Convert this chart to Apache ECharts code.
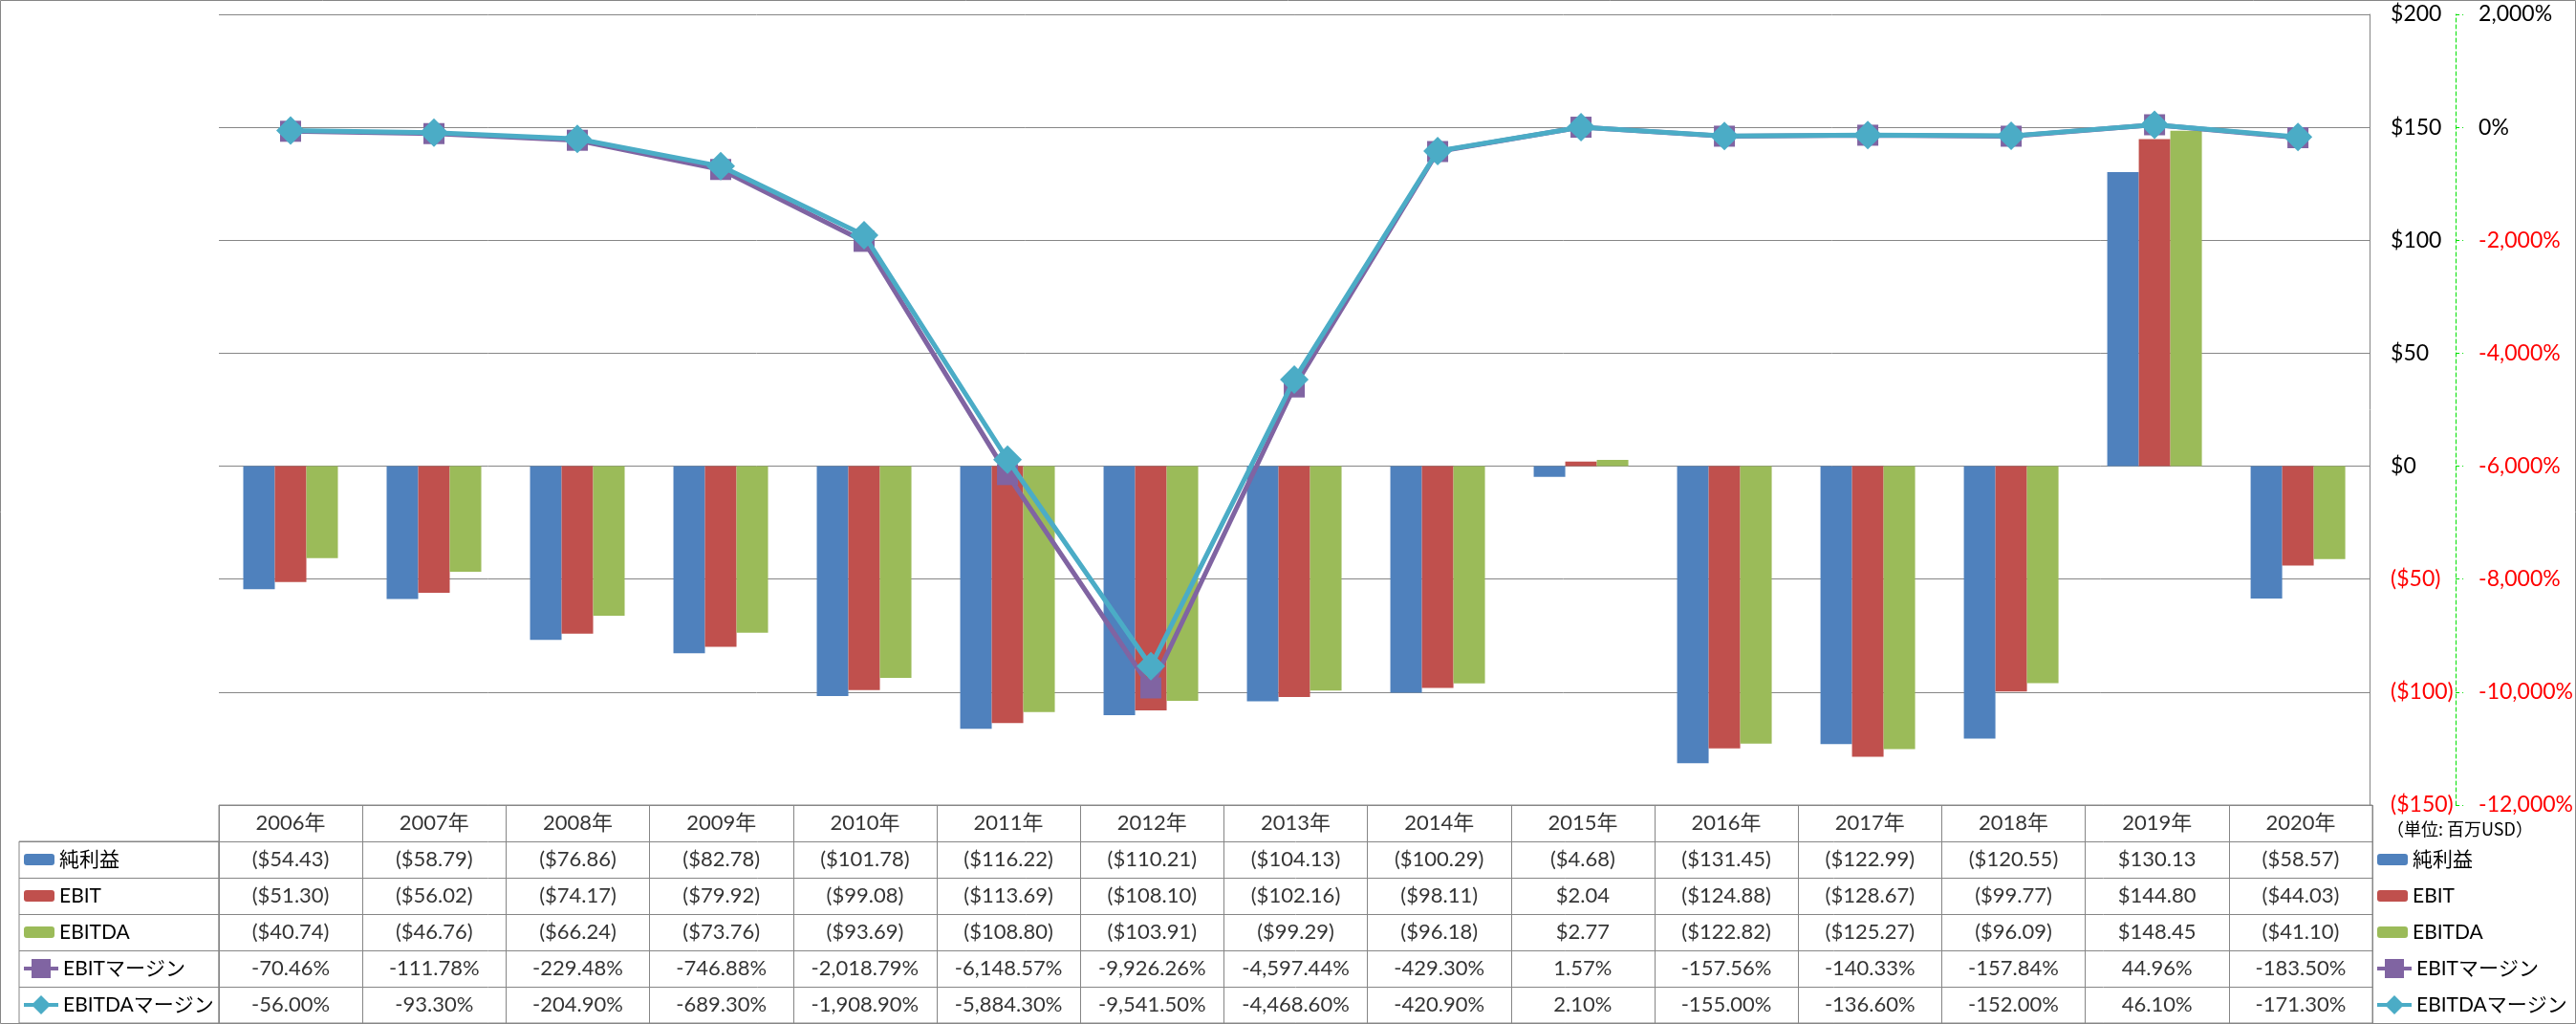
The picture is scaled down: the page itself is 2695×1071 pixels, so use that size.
<!DOCTYPE html>
<html>
<head>
<meta charset="utf-8">
<script src="https://cdn.jsdelivr.net/npm/echarts@6/dist/echarts.min.js"></script>
<style>
html,body{margin:0;padding:0;background:#fff;}
#chart{width:2695px;height:1071px;}
</style>
</head>
<body>
<div id="chart"></div>
<script>
// ---- data ----
var years = ['2006年','2007年','2008年','2009年','2010年','2011年','2012年','2013年','2014年','2015年','2016年','2017年','2018年','2019年','2020年'];
var netIncome = [-54.43,-58.79,-76.86,-82.78,-101.78,-116.22,-110.21,-104.13,-100.29,-4.68,-131.45,-122.99,-120.55,130.13,-58.57];
var ebit = [-51.30,-56.02,-74.17,-79.92,-99.08,-113.69,-108.10,-102.16,-98.11,2.04,-124.88,-128.67,-99.77,144.80,-44.03];
var ebitda = [-40.74,-46.76,-66.24,-73.76,-93.69,-108.80,-103.91,-99.29,-96.18,2.77,-122.82,-125.27,-96.09,148.45,-41.10];
var ebitMargin = [-70.46,-111.78,-229.48,-746.88,-2018.79,-6148.57,-9926.26,-4597.44,-429.30,1.57,-157.56,-140.33,-157.84,44.96,-183.50];
var ebitdaMargin = [-56.00,-93.30,-204.90,-689.30,-1908.90,-5884.30,-9541.50,-4468.60,-420.90,2.10,-155.00,-136.60,-152.00,46.10,-171.30];
var seriesNames = ['純利益','EBIT','EBITDA','EBITマージン','EBITDAマージン'];
var unitLabel = '（単位: 百万USD）';

// ---- helpers ----
var FONT = 'Lato, "Noto Sans CJK JP", sans-serif';
var GRAY = '#868686';
function money(v){ return v < 0 ? '($' + Math.abs(v).toFixed(2) + ')' : '$' + v.toFixed(2); }
function pct(v){ return v.toLocaleString('en-US',{minimumFractionDigits:2,maximumFractionDigits:2}) + '%'; }

var rowKeys = ['header'].concat(seriesNames);
var tableRows = [
  years,
  netIncome.map(money),
  ebit.map(money),
  ebitda.map(money),
  ebitMargin.map(pct),
  ebitdaMargin.map(pct)
];
var cellData = [];
tableRows.forEach(function(row, r){
  row.forEach(function(txt, c){ cellData.push([c, r, txt]); });
});

var tableTop = 842, tableBottom = 1070;
var rowH = (tableBottom - tableTop) / 6;
function rowCenter(i){ return tableTop + rowH * (i + 0.5); }

var chart = echarts.init(document.getElementById('chart'), null, {renderer:'canvas'});
var legendText = {fontSize:21, color:'#000', fontFamily:FONT, lineHeight:26};

var option = {
  animation:false,
  backgroundColor:'#fff',
  textStyle:{fontFamily:FONT},
  title:{
    text: unitLabel, left: 2497, top: 858, padding:0,
    textStyle:{fontSize:18, fontWeight:'normal', color:'#000', fontFamily:'"Noto Sans CJK JP", sans-serif'}
  },
  graphic:[{
    type:'rect', shape:{x:0.5,y:0.5,width:2694,height:1070},
    style:{fill:'none', stroke:GRAY, lineWidth:1}, silent:true, z:-1
  }],
  legend:[
    {data:seriesNames.slice(0,3), orient:'vertical', left:25, top:rowCenter(1)-13, padding:0,
     itemWidth:32, itemHeight:12, itemGap:rowH-26, textStyle:legendText, selectedMode:false},
    {data:seriesNames.slice(3), orient:'vertical', left:23, top:rowCenter(4)-13, padding:0,
     itemWidth:36, itemHeight:25, itemGap:rowH-26, textStyle:legendText, selectedMode:false,
     lineStyle:{width:4}},
    {data:seriesNames.slice(0,3), orient:'vertical', left:2487, top:rowCenter(1)-13, padding:0,
     itemWidth:32, itemHeight:12, itemGap:rowH-26, textStyle:legendText, selectedMode:false},
    {data:seriesNames.slice(3), orient:'vertical', left:2485, top:rowCenter(4)-13, padding:0,
     itemWidth:36, itemHeight:25, itemGap:rowH-26, textStyle:legendText, selectedMode:false,
     lineStyle:{width:4}}
  ],
  grid:[
    {left:229, right:213, top:15, bottom:1071-842},
    {left:229, right:213, top:tableTop, bottom:1071-tableBottom, show:true, borderColor:GRAY, borderWidth:1},
    {left:20, right:2695-229, top:tableTop+rowH, bottom:1071-tableBottom, show:true, borderColor:GRAY, borderWidth:1}
  ],
  xAxis:[
    {type:'category', gridIndex:0, data:years, axisLine:{show:false}, axisTick:{show:false}, axisLabel:{show:false}, splitLine:{show:false}},
    {type:'category', gridIndex:1, data:years, axisLine:{show:false}, axisTick:{show:false}, axisLabel:{show:false},
     splitLine:{show:true, interval:0, lineStyle:{color:GRAY, width:1}}},
    {type:'category', gridIndex:2, data:[''], axisLine:{show:false}, axisTick:{show:false}, axisLabel:{show:false}, splitLine:{show:false}}
  ],
  yAxis:[
    {type:'value', gridIndex:0, position:'right', min:-150, max:200, interval:50,
     axisLine:{show:true, lineStyle:{color:GRAY, width:1}}, axisTick:{show:false},
     splitLine:{show:true, lineStyle:{color:GRAY, width:1}},
     axisLabel:{margin:22, fontSize:23, fontFamily:FONT,
       formatter:function(v){ return v < 0 ? '($' + Math.abs(v) + ')' : '$' + v; },
       color:function(v){ return Number(v) < 0 ? '#ff0000' : '#000'; }}},
    {type:'value', gridIndex:0, position:'right', offset:90, min:-12000, max:2000, interval:2000,
     axisLine:{show:true, lineStyle:{color:'#00e000', width:1, type:[4,3]}},
     axisTick:{show:true, inside:false, length:8, lineStyle:{color:'#00e000', width:1, type:[4,3]}},
     splitLine:{show:false},
     axisLabel:{margin:24, fontSize:23, fontFamily:FONT,
       formatter:function(v){ return v.toLocaleString('en-US') + '%'; },
       color:function(v){ return Number(v) < 0 ? '#ff0000' : '#000'; }}},
    {type:'category', gridIndex:1, data:rowKeys, inverse:true, axisLine:{show:false}, axisTick:{show:false}, axisLabel:{show:false},
     splitLine:{show:true, interval:0, lineStyle:{color:GRAY, width:1}}},
    {type:'category', gridIndex:2, data:seriesNames, inverse:true, axisLine:{show:false}, axisTick:{show:false}, axisLabel:{show:false},
     splitLine:{show:true, interval:0, lineStyle:{color:GRAY, width:1}}}
  ],
  series:[
    {name:seriesNames[0], type:'bar', xAxisIndex:0, yAxisIndex:0, data:netIncome, barWidth:33, barGap:'0%', itemStyle:{color:'#4F81BD'}},
    {name:seriesNames[1], type:'bar', xAxisIndex:0, yAxisIndex:0, data:ebit, barWidth:33, barGap:'0%', itemStyle:{color:'#C0504D'}},
    {name:seriesNames[2], type:'bar', xAxisIndex:0, yAxisIndex:0, data:ebitda, barWidth:33, barGap:'0%', itemStyle:{color:'#9BBB59'}},
    {name:seriesNames[3], type:'line', xAxisIndex:0, yAxisIndex:1, data:ebitMargin, z:3,
     symbol:'rect', symbolSize:22, lineStyle:{color:'#8064A2', width:5}, itemStyle:{color:'#8064A2'}},
    {name:seriesNames[4], type:'line', xAxisIndex:0, yAxisIndex:1, data:ebitdaMargin, z:4,
     symbol:'diamond', symbolSize:30, lineStyle:{color:'#4BACC6', width:5}, itemStyle:{color:'#4BACC6'}},
    {name:'table', type:'scatter', xAxisIndex:1, yAxisIndex:2, data:cellData, symbolSize:1, silent:true,
     itemStyle:{color:'rgba(0,0,0,0)'},
     label:{show:true, position:'inside', color:'#000', fontSize:22, fontFamily:FONT,
       formatter:function(p){ return p.value[2]; }}}
  ]
};
chart.setOption(option);
</script>
</body>
</html>
